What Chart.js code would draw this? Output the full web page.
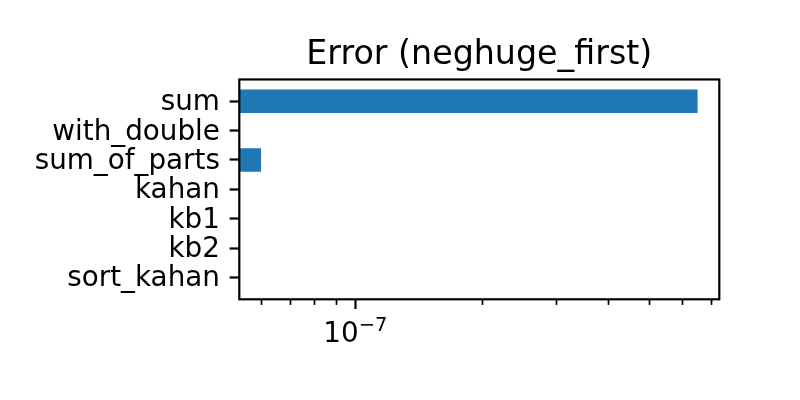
<!DOCTYPE html>
<html>
<head>
<meta charset="utf-8">
<script src="https://cdn.jsdelivr.net/npm/chart.js@4"></script>
<style>
html, body { margin: 0; padding: 0; background: #fff; }
</style>
</head>
<body>
<canvas id="errChart" width="800" height="400"></canvas>
<script>
const methods = ['sum', 'with_double', 'sum_of_parts', 'kahan', 'kb1', 'kb2', 'sort_kahan'];
const errors = [6.5e-7, 0, 5.97e-8, 0, 0, 0, 0];
const majorTicks = [1e-7];
const majorBases = ['10'];
const majorExps = ['\u22127'];
const minorTicks = [6e-8, 7e-8, 8e-8, 9e-8, 2e-7, 3e-7, 4e-7, 5e-7, 6e-7, 7e-7];
const xMin = 5.30e-8;
const xMax = 7.32e-7;

Chart.defaults.font.family = 'DejaVu Sans';
Chart.defaults.color = '#000';

const tickFont = { family: 'DejaVu Sans', size: 27.8 };

// axes box round the plot area
const frame = {
    id: 'frame',
    afterDatasetsDraw(chart) {
        const { ctx, chartArea: a } = chart;
        ctx.save();
        ctx.strokeStyle = '#000';
        ctx.lineWidth = 2.2;
        ctx.strokeRect(a.left, a.top, a.right - a.left, a.bottom - a.top);
        ctx.restore();
    }
};

// 10^n style labels under the major log ticks
const sciLabels = {
    id: 'sciLabels',
    afterDraw(chart) {
        const { ctx } = chart;
        const scale = chart.scales.x;
        ctx.save();
        ctx.fillStyle = '#000';
        ctx.textBaseline = 'alphabetic';
        ctx.textAlign = 'left';
        majorTicks.forEach((v, i) => {
            const px = scale.getPixelForValue(v);
            ctx.font = '27.8px "DejaVu Sans"';
            const wb = ctx.measureText(majorBases[i]).width;
            ctx.font = '19.5px "DejaVu Sans"';
            const we = ctx.measureText(majorExps[i]).width;
            const x0 = px - (wb + we) / 2;
            const base = scale.top + 42.4;
            ctx.font = '27.8px "DejaVu Sans"';
            ctx.fillText(majorBases[i], x0, base);
            ctx.font = '19.5px "DejaVu Sans"';
            ctx.fillText(majorExps[i], x0 + wb, base - 10.7);
        });
        ctx.restore();
    }
};

const ctx = document.getElementById('errChart').getContext('2d');

const chart = new Chart(ctx, {
    type: 'bar',
    data: {
        datasets: [{
            label: 'error',
            data: errors.map((v, i) => ({ x: v, y: i })),
            backgroundColor: '#1f77b4',
            borderWidth: 0,
            categoryPercentage: 0.8,
            barPercentage: 1.0,
            xAxisID: 'x',
            yAxisID: 'y'
        }]
    },
    options: {
        indexAxis: 'y',
        responsive: false,
        animation: false,
        layout: { padding: { left: 0, right: 80.7, top: 0, bottom: 0 } },
        plugins: {
            legend: { display: false },
            tooltip: { enabled: false },
            title: {
                display: true,
                text: 'Error (neghuge_first)',
                fullSize: false,
                color: '#000',
                font: { family: 'DejaVu Sans', size: 33.3, weight: 'normal', lineHeight: 1.2 },
                padding: { top: 35, bottom: 4.5 }
            }
        },
        scales: {
            y: {
                type: 'linear',
                reverse: true,
                offset: false,
                min: -0.74,
                max: 6.74,
                afterBuildTicks: s => { s.ticks = methods.map((_, i) => ({ value: i })); },
                afterFit: s => { s.width = 239.3; },
                ticks: {
                    callback: v => methods[v],
                    font: tickFont,
                    color: '#000',
                    padding: 9.7,
                    labelOffset: 1.7,
                    autoSkip: false
                },
                grid: { offset: false, drawOnChartArea: false, tickLength: 9.7, tickWidth: 2.2, tickColor: '#000' },
                border: { display: false }
            },
            x: {
                type: 'logarithmic',
                position: 'bottom',
                weight: 1,
                min: xMin,
                max: xMax,
                afterBuildTicks: s => { s.ticks = majorTicks.map(v => ({ value: v })); },
                afterFit: s => { s.height = 100.7; },
                ticks: {
                    callback: () => '',
                    font: tickFont,
                    padding: 9.7,
                    maxRotation: 0,
                    autoSkip: false
                },
                grid: { drawOnChartArea: false, tickLength: 9.7, tickWidth: 2.2, tickColor: '#000' },
                border: { display: false }
            },
            xMinor: {
                type: 'logarithmic',
                position: 'bottom',
                weight: 0,
                min: xMin,
                max: xMax,
                afterBuildTicks: s => { s.ticks = minorTicks.map(v => ({ value: v })); },
                afterFit: s => { s.height = 0; },
                ticks: { display: false },
                grid: { drawOnChartArea: false, tickLength: 5.6, tickWidth: 1.7, tickColor: '#000' },
                border: { display: false }
            }
        }
    },
    plugins: [frame, sciLabels]
});
</script>
</body>
</html>
